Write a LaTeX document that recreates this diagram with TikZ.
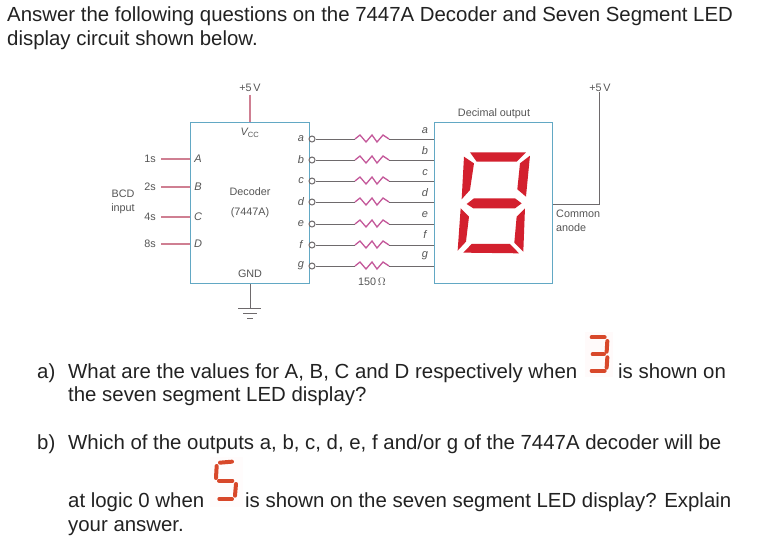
\documentclass[tikz,border=0pt]{standalone}
\usepackage{fontspec}
\setmainfont{Liberation Sans}
\usepackage{tikz}
\definecolor{boxblue}{HTML}{62A8C4}
\definecolor{pinkline}{HTML}{CF7F92}
\definecolor{wire}{HTML}{6E6A6C}
\definecolor{resist}{HTML}{C4589A}
\definecolor{segred}{HTML}{D3202E}
\definecolor{smallseg}{HTML}{D8482A}
\definecolor{txt}{HTML}{222222}
\definecolor{lab}{HTML}{555555}
\tikzset{
  body/.style={font=\fontsize{20.4}{24}\selectfont, text=txt, anchor=base west, inner sep=0pt},
  lbl/.style={font=\fontsize{10.8}{13}\selectfont, text=lab, inner sep=0pt},
  pin/.style={font=\fontsize{11}{13}\selectfont\itshape, text=lab, inner sep=0pt},
  chip/.style={draw=boxblue, line width=1.3pt, anchor=north west, inner sep=0pt},
  bub/.style={circle, draw=wire, fill=white, line width=1pt, minimum size=6pt, inner sep=0pt},
  pinkw/.style={draw=pinkline, line width=1.2pt},
  greyw/.style={draw=wire, line width=1pt},
  res/.style={draw=resist, line width=1.3pt},
  seg/.style={fill=segred, draw=none},
  mini/.style={draw=smallseg, line width=4pt, line cap=round},
}
\begin{document}
\begin{tikzpicture}[x=1pt,y=-1pt]
\useasboundingbox[fill=white] (0,0) rectangle (773,547);
% heading
\node[body] (h1) at (7,21.5) {Answer the following questions on the 7447A Decoder and Seven Segment LED};
\node[body] (h2) at (7,45) {display circuit shown below.};
% decoder
\node[chip, minimum width=119pt, minimum height=161pt] (dec) at (190,122) {};
\node[chip, minimum width=118pt, minimum height=161pt] (disp) at (434,122) {};
\node[lbl] (vcc5) at (250,88) {+5\,V};
\node[lbl] (vcc) at (250,133) {\itshape V\textsubscript{\upshape CC}};
\node[lbl] (gnd) at (250,274) {GND};
\node[lbl] at (250,192) {Decoder};
\node[lbl] at (250,213) {(7447A)};
\node[lbl, align=center, font=\fontsize{10.8}{14}\selectfont] (bcd) at (123,202) {BCD\\input};
\draw[pinkw] (vcc5.south) ++(0,3) -- (dec.north -| vcc5);
% inputs
\foreach \n/\lab/\s/\y in {A/A/1s/159,B/B/2s/187,C/C/4s/217,D/D/8s/244}{
  \node[lbl, anchor=east, inner xsep=5pt] (in\n) at (161,\y) {\s};
  \node[pin] (p\n) at (198,\y) {\lab};
  \draw[pinkw] (in\n.east) -- (in\n.east -| dec.west);
}
% ground
\coordinate (g0) at (250,308);
\draw[greyw] (dec.south -| g0) -- (g0);
\draw[greyw] (238,308) -- (261,308);
\draw[greyw] (243,313) -- (257,313);
\draw[greyw] (247,318) -- (253,318);
% outputs
\foreach \n/\y/\ly/\ry in {a/139/139/131,b/160/160/151,c/181/181/173,d/202/202/193,e/224/224/215,f/245/245/235,g/266/266/256}{
  \node[bub] (o\n) at (312,\y) {};
  \node[pin] at (301,\ly) {\n};
  \node[pin] at (425,\ry) {\n};
  \coordinate (rs\n) at (355,\y);
  \coordinate (re\n) at (389,\y);
  \draw[greyw] (o\n.east) -- (rs\n);
  \draw[greyw] (re\n) -- (re\n -| disp.west);
  \draw[res] (rs\n) -- ++(5,-4) -- ++(6,7) -- ++(6,-7) -- ++(5,7) -- ++(6,-7) -- (re\n);
}
\node[lbl] (ohm) at (372,282) {150\,$\Omega$};
% display labels
\node[lbl] (dout) at (494,114) {Decimal output};
\node[lbl, anchor=west, align=left, font=\fontsize{10.8}{14}\selectfont] (ca) at (556,221) {Common\\anode};
\node[lbl] (v5r) at (600,88) {+5\,V};
\coordinate (an) at (599,204);
\draw[greyw] (disp.east |- an) -- (an) -- (an |- v5r.south);
% seven segment
\begin{scope}[shift={(320,60)},x=.3333pt,y=-.3333pt]
\fill[seg] (450,277)--(618,277)--(590,305)--(470,305)--cycle;
\fill[seg] (432,290)--(462,310)--(450,390)--(425,418)--cycle;
\fill[seg] (630,287)--(618,410)--(592,388)--(600,310)--cycle;
\fill[seg] (440,432)--(462,415)--(585,415)--(605,430)--(585,445)--(460,445)--cycle;
\fill[seg] (422,445)--(447,470)--(438,545)--(413,572)--cycle;
\fill[seg] (615,445)--(610,575)--(583,548)--(590,470)--cycle;
\fill[seg] (430,578)--(455,552)--(570,552)--(597,580)--cycle;
\end{scope}
% questions
\node[body] (qa) at (37,378) {a)};
\node[body] (qa1) at (68,378) {What are the values for A, B, C and D respectively when};
\node[body] (qa2) at (618,378) {is shown on};
\node[body] (qa3) at (68,401) {the seven segment LED display?};
\node[body] (qb) at (37,449) {b)};
\node[body] (qb1) at (68,449) {Which of the outputs a, b, c, d, e, f and/or g of the 7447A decoder will be};
\node[body] (qb2) at (68,507) {at logic 0 when};
\node[body] (qb3) at (245,507) {is shown on the seven segment LED display? Explain};
\node[body] (qb4) at (68,531) {your answer.};
% small digit 3
\fill[red!2] (585,332) rectangle (613,377);
\begin{scope}[shift={(500,320)},x=.3333pt,y=-.3333pt]
\draw[mini] (275,52)--(314,52);
\draw[mini] (322,63)--(320,95);
\draw[mini] (278,103)--(312,103);
\draw[mini] (322,112)--(320,143);
\draw[mini] (275,152)--(314,152);
\end{scope}
% small digit 5
\fill[red!1] (210,457) rectangle (243,507);
\begin{scope}[shift={(180,450)},x=.3333pt,y=-.3333pt]
\draw[mini] (120,38)--(156,35);
\draw[mini] (110,48)--(108,84);
\draw[mini] (117,92)--(157,92);
\draw[mini] (168,102)--(165,137);
\draw[mini] (118,147)--(156,147);
\end{scope}
\end{tikzpicture}
\end{document}
